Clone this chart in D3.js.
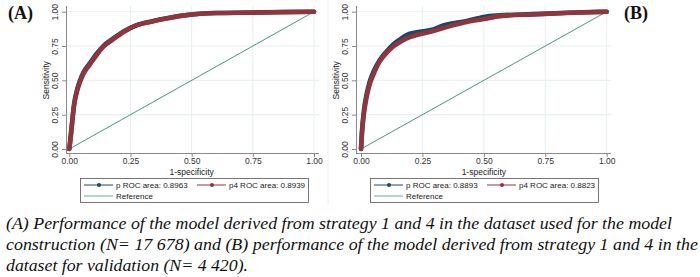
<!DOCTYPE html>
<html>
<head>
<meta charset="utf-8">
<script src="https://cdn.jsdelivr.net/npm/d3@7"></script>
<style>
  body { margin: 0; background: #fff; }
  svg { display: block; }
</style>
</head>
<body>
<svg id="chart" width="700" height="277"></svg>
<script>
// ROC points: [1-specificity, sensitivity]
const rocA_p = [[0,0],[0.003,0.05],[0.01,0.17],[0.019,0.32],[0.033,0.44],[0.044,0.50],[0.057,0.555],[0.084,0.625],[0.11,0.69],[0.139,0.75],[0.18,0.805],[0.22,0.855],[0.275,0.902],[0.343,0.932],[0.397,0.952],[0.48,0.976],[0.60,0.99],[0.75,0.994],[0.88,0.998],[1,1]];
const rocA_p4 = [[0,0],[0.003,0.04],[0.01,0.16],[0.019,0.31],[0.033,0.43],[0.044,0.49],[0.057,0.545],[0.084,0.615],[0.11,0.68],[0.139,0.745],[0.18,0.80],[0.22,0.85],[0.275,0.90],[0.343,0.93],[0.397,0.95],[0.48,0.975],[0.60,0.99],[0.75,0.993],[0.88,0.997],[1,1]];
const rocB_p = [[0,0],[0.004,0.13],[0.012,0.28],[0.023,0.40],[0.037,0.50],[0.05,0.56],[0.077,0.65],[0.104,0.71],[0.13,0.76],[0.16,0.80],[0.186,0.83],[0.227,0.85],[0.294,0.87],[0.335,0.9],[0.43,0.932],[0.50,0.962],[0.566,0.973],[0.70,0.982],[0.837,0.992],[1,1]];
const rocB_p4 = [[0,0],[0.004,0.114],[0.012,0.26],[0.023,0.38],[0.037,0.48],[0.05,0.54],[0.077,0.64],[0.104,0.70],[0.13,0.745],[0.16,0.78],[0.186,0.806],[0.227,0.83],[0.294,0.86],[0.362,0.895],[0.43,0.925],[0.50,0.947],[0.566,0.968],[0.70,0.98],[0.837,0.99],[1,1]];

const ticks = [0, 0.25, 0.5, 0.75, 1];
const legendA = ["p ROC area: 0.8963", "p4 ROC area: 0.8939", "Reference"];
const legendB = ["p ROC area: 0.8893", "p4 ROC area: 0.8823", "Reference"];
const panelTags = ["(A)", "(B)"];
const captionLines = [
  "(A) Performance of the model derived from strategy 1 and 4 in the dataset used for the model",
  "construction (N= 17 678) and (B) performance of the model derived from strategy 1 and 4 in the",
  "dataset for validation (N= 4 420)."
];
const captionWidths = [666, 692, 242];

const BLUE = "#1a476f";
const RED = "#90353b";
const REF = "#4d9387";
const GRID = "#e6eff1";
const AXIS = "#8a8a8a";
const SANS = "'Liberation Sans', Arial, sans-serif";

const svg = d3.select("#chart");
svg.append("rect").attr("width", 700).attr("height", 277).attr("fill", "#fff");

// faint divider between the two graphs
svg.append("line")
  .attr("x1", 328).attr("x2", 328).attr("y1", 0).attr("y2", 205)
  .attr("stroke", "#f0f0f0");

function drawPanel(opts) {
  const x = d3.scaleLinear().domain([0, 1]).range([opts.x0, opts.x1]);
  const y = d3.scaleLinear().domain([0, 1]).range([149, 11.7]);
  const g = svg.append("g");

  // grid
  g.append("g").selectAll("line").data(ticks.slice(1)).join("line")
    .attr("x1", opts.axisX).attr("x2", opts.right)
    .attr("y1", d => y(d)).attr("y2", d => y(d))
    .attr("stroke", GRID).attr("stroke-width", 1);
  g.append("g").selectAll("line").data(ticks.slice(1)).join("line")
    .attr("x1", d => x(d)).attr("x2", d => x(d))
    .attr("y1", 6).attr("y2", 153)
    .attr("stroke", GRID).attr("stroke-width", 1);

  // axes
  const xAxis = d3.axisBottom(x).tickValues(ticks).tickFormat(d3.format(".2f"))
    .tickSize(4).tickSizeOuter(0);
  const xg = g.append("g").attr("transform", "translate(0,153)").call(xAxis);
  xg.select(".domain").attr("d", `M${opts.axisX},0.5H${opts.right}`);

  const yAxis = d3.axisLeft(y).tickValues(ticks).tickFormat(d3.format(".2f"))
    .tickSize(4).tickSizeOuter(0);
  const yg = g.append("g").attr("transform", `translate(${opts.axisX},0)`).call(yAxis);
  yg.select(".domain").attr("d", "M0.5,6V153");

  [xg, yg].forEach(a => {
    a.selectAll(".domain").attr("stroke", AXIS);
    a.selectAll(".tick line").attr("stroke", AXIS);
    a.selectAll("text").attr("fill", "#333")
      .style("font", `8.5px ${SANS}`);
  });
  xg.selectAll("text").attr("y", 5);
  yg.selectAll(".tick text")
    .attr("x", null).attr("dy", null)
    .attr("text-anchor", "middle")
    .attr("transform", `translate(-8,0) rotate(-90)`);

  g.append("text")
    .attr("x", (opts.x0 + opts.x1) / 2).attr("y", 174.5)
    .attr("text-anchor", "middle").attr("fill", "#222")
    .style("font", `8.5px ${SANS}`)
    .text("1-specificity");
  g.append("text")
    .attr("transform", `translate(${opts.axisX - 17},${y(0.5)}) rotate(-90)`)
    .attr("text-anchor", "middle").attr("fill", "#222")
    .style("font", `8.5px ${SANS}`)
    .text("Sensitivity");

  // reference diagonal
  g.append("line")
    .attr("x1", x(0)).attr("y1", y(0)).attr("x2", x(1)).attr("y2", y(1))
    .attr("stroke", REF).attr("stroke-width", 1);

  const line = d3.line().x(d => x(d[0])).y(d => y(d[1])).curve(d3.curveMonotoneX);
  [[opts.p, BLUE], [opts.p4, RED]].forEach(([pts, c]) => {
    g.append("path").datum(pts)
      .attr("d", line).attr("fill", "none")
      .attr("stroke", c).attr("stroke-width", 4.6)
      .attr("stroke-linecap", "round").attr("stroke-linejoin", "round");
  });

  // legend
  const lx = opts.legX, lw = 228;
  const leg = g.append("g");
  leg.append("rect").attr("x", lx + 0.5).attr("y", 178.5).attr("width", lw).attr("height", 24)
    .attr("fill", "#fff").attr("stroke", "#555").attr("stroke-width", 0.8);
  const entries = [
    { dx: 4, y: 185, c: BLUE, dot: true, t: opts.legend[0] },
    { dx: 117, y: 185, c: RED, dot: true, t: opts.legend[1] },
    { dx: 4, y: 196, c: "#9fcbc4", dot: false, t: opts.legend[2] }
  ];
  entries.forEach(e => {
    leg.append("line").attr("x1", lx + e.dx).attr("x2", lx + e.dx + 29)
      .attr("y1", e.y).attr("y2", e.y)
      .attr("stroke", e.c).attr("stroke-width", e.dot ? 1 : 1.6);
    if (e.dot) {
      leg.append("circle").attr("cx", lx + e.dx + 15).attr("cy", e.y).attr("r", 2)
        .attr("fill", e.c);
    }
    leg.append("text").attr("x", lx + e.dx + 32).attr("y", e.y + 3)
      .attr("fill", "#222")
      .style("font", `8px ${SANS}`)
      .text(e.t);
  });

  svg.append("text")
    .attr("x", opts.tagX).attr("y", 19)
    .attr("fill", "#111")
    .style("font", "bold 18px 'Liberation Serif', 'Times New Roman', serif")
    .text(opts.tag);
}

drawPanel({ x0: 69.3, x1: 314, axisX: 66, right: 319, p: rocA_p, p4: rocA_p4,
  legend: legendA, legX: 80, tag: panelTags[0], tagX: 8 });
drawPanel({ x0: 361, x1: 606.7, axisX: 356, right: 611, p: rocB_p, p4: rocB_p4,
  legend: legendB, legX: 370, tag: panelTags[1], tagX: 624 });

// caption
svg.append("g").selectAll("text").data(captionLines).join("text")
  .attr("x", 6).attr("y", (d, i) => 229 + i * 21)
  .attr("fill", "#111")
  .attr("textLength", (d, i) => captionWidths[i])
  .attr("lengthAdjust", "spacingAndGlyphs")
  .style("font", "italic 17.5px 'Liberation Serif', 'Times New Roman', serif")
  .text(d => d);
</script>
</body>
</html>
